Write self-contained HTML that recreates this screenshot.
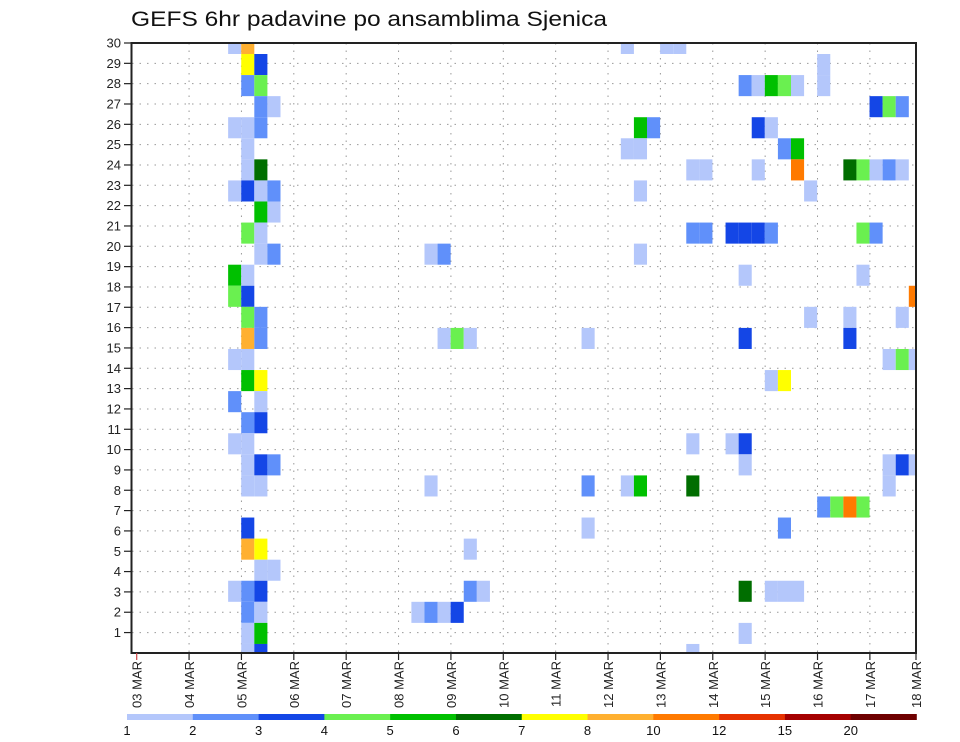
<!DOCTYPE html>
<html><head><meta charset="utf-8"><style>
html,body{margin:0;padding:0;background:#fff;}
svg{display:block;font-family:"Liberation Sans",sans-serif;}
</style></head><body>
<svg id="chart" width="960" height="742" viewBox="0 0 960 742" xmlns="http://www.w3.org/2000/svg">
<defs><clipPath id="plotclip"><rect x="132" y="43" width="784" height="610"/></clipPath></defs>
<rect x="0" y="0" width="960" height="742" fill="#fff"/>
<text x="131" y="26" font-size="21" textLength="476" lengthAdjust="spacingAndGlyphs" fill="#111">GEFS 6hr padavine po ansamblima Sjenica</text>
<g id="grid"></g>
<g id="cells" clip-path="url(#plotclip)"></g>
<g id="axes"></g>
<g id="colorbar"></g>
</svg>
<script>
// ---- data ----
const dayLabels = ["03 MAR","04 MAR","05 MAR","06 MAR","07 MAR","08 MAR","09 MAR","10 MAR","11 MAR","12 MAR","13 MAR","14 MAR","15 MAR","16 MAR","17 MAR","18 MAR"];
const memberTicks = [1,2,3,4,5,6,7,8,9,10,11,12,13,14,15,16,17,18,19,20,21,22,23,24,25,26,27,28,29,30];
const levelLabels = ["1","2","3","4","5","6","7","8","10","12","15","20"];
const levelColors = ["#b4c7fb","#6090fa","#1446e6","#6af050","#00c000","#006e00","#ffff00","#ffb030","#ff7a00","#e63200","#a50000","#6e0000"];
// each cell: member, 6h step index (from 03 MAR 00z), level index
const cellMember = [30,30,30,30,30, 29,29,29, 28,28,28,28,28,28,28,28, 27,27,27,27,27, 26,26,26,26,26,26,26, 25,25,25,25,25, 24,24,24,24,24,24,24,24,24,24,24, 23,23,23,23,23,23, 22,22, 21,21,21,21,21,21,21,21,21,21, 20,20,20,20,20, 19,19,19,19, 18,18,18, 17,17,17,17,17, 16,16,16,16,16,16,16,16, 15,15,15,15,15, 14,14,14,14, 13,13, 12,12, 11,11,11,11,11, 10,10,10,10,10,10,10, 9,9,9,9,9,9,9,9, 8,8,8,8, 7,7,7, 6,6,6, 5,5, 4,4,4,4,4,4,4,4,4, 3,3,3,3,3,3, 2,2,2, 1,1,1];
const cellStep   = [7,8,37,40,41, 8,9,52, 8,9,46,47,48,49,50,52, 9,10,56,57,58, 7,8,9,38,39,47,48, 8,37,38,49,50, 8,9,42,43,47,50,54,55,56,57,58, 7,8,9,10,38,51, 9,10, 8,9,42,43,45,46,47,48,55,56, 9,10,22,23,38, 7,8,46,55, 7,8,59, 8,9,51,54,58, 8,9,23,24,25,34,46,54, 7,8,57,58,59, 8,9,48,49, 7,9, 8,9, 7,8,42,45,46, 8,9,10,46,57,58,59, 8,9,22,34,37,38,42,57, 52,53,54,55, 8,34,49, 8,9,25, 9,10, 7,8,9,25,26,46,48,49,50, 8,9,21,22,23,24, 8,9,46, 8,9,42];
const cellLevel  = [0,7,0,0,0, 6,2,0, 1,3,1,0,4,3,0,0, 1,0,2,3,1, 0,0,1,4,1,2,0, 0,0,0,1,4, 0,5,0,0,0,8,5,3,0,1,0, 0,2,0,1,0,0, 4,0, 3,0,1,1,2,2,2,1,3,1, 0,1,0,1,0, 4,0,0,0, 3,2,8, 3,1,0,0,0, 7,1,0,3,0,0,2,2, 0,0,0,3,0, 4,6,0,6, 1,0, 1,2, 0,0,0,0,2, 0,2,1,0,0,2,0, 0,0,0,1,0,4,5,0, 1,3,8,3, 2,0,1, 7,6,0, 0,0, 0,1,2,1,0,5,0,0,0, 1,0,0,1,0,2, 0,4,0, 0,2,0];

// ---- scales ----
const NS="http://www.w3.org/2000/svg";
const plotL=132, plotR=916, plotT=43, plotB=653;
function xDay(d){ return d>=15 ? 916 : 136.7 + 52.37*d; }
function xStep(i){ return 136.5 + 13.09*i; }
const stepW = 13.09;
function yTick(k){ return 43 + (30-k)*20.33; }
function yCellTop(k){ return 54 + (29-k)*21.07; }
const cellH = 21.07;
function mk(tag, attrs, parent){ const e=document.createElementNS(NS,tag); for(const a in attrs) e.setAttribute(a, attrs[a]); parent.appendChild(e); return e; }

const grid=document.getElementById('grid');
const cells=document.getElementById('cells');
const axes=document.getElementById('axes');
const cbar=document.getElementById('colorbar');

// gridlines
memberTicks.forEach(k=>{
  const l=mk('line',{x1:plotL,x2:plotR,y1:yTick(k),y2:yTick(k),stroke:'#999','stroke-width':1,'stroke-dasharray':'1.5 6'},grid);
  
  
});
for(let d=1; d<15; d++){
  const l=mk('line',{x1:xDay(d),x2:xDay(d),y1:plotT,y2:plotB,stroke:'#999','stroke-width':1,'stroke-dasharray':'1.5 6'},grid);
  
  
}

// cells
for(let n=0;n<cellMember.length;n++){
  const r=mk('rect',{x:xStep(cellStep[n]).toFixed(2),y:yCellTop(cellMember[n]).toFixed(2),width:stepW,height:cellH,fill:levelColors[cellLevel[n]]},cells);
  
  
}

// axes frame
const fr=mk('rect',{x:plotL-0.5,y:plotT,width:plotR-plotL+0.5,height:plotB-plotT,fill:'none',stroke:'#222','stroke-width':2},axes);



// y ticks & labels
memberTicks.forEach(k=>{
  const y=yTick(k);
  const t=mk('line',{x1:124,x2:plotL,y1:y,y2:y,stroke:'#222','stroke-width':1.2},axes);
  
  
  const tx=mk('text',{x:121,y:y+4.5,'font-size':13,'text-anchor':'end',fill:'#222'},axes);
  tx.textContent=k;
  
  
});

// x ticks & labels
dayLabels.forEach((lab,d)=>{
  const x=xDay(d);
  const t=mk('line',{x1:x,x2:x,y1:plotB,y2:plotB+7,stroke:d===0?'#c44':'#222','stroke-width':1.2},axes);
  
  
  const tx=mk('text',{x:0,y:0,'font-size':13,'text-anchor':'end',fill:'#222',transform:`translate(${x+5},${plotB+8}) rotate(-90)`},axes);
  tx.textContent=lab;
  
  
});

// colorbar
const cbL=127, cbR=916.5, cbW=(cbR-cbL)/levelColors.length;
levelColors.forEach((c,i)=>{
  const r=mk('rect',{x:(cbL+i*cbW).toFixed(2),y:714,width:(cbW+0.3).toFixed(2),height:6,fill:c},cbar);
  
  
});
levelLabels.forEach((lab,i)=>{
  const tx=mk('text',{x:(cbL+i*cbW).toFixed(2),y:735,'font-size':13,'text-anchor':'middle',fill:'#111'},cbar);
  tx.textContent=lab;
  
  
});
</script>
</body></html>
